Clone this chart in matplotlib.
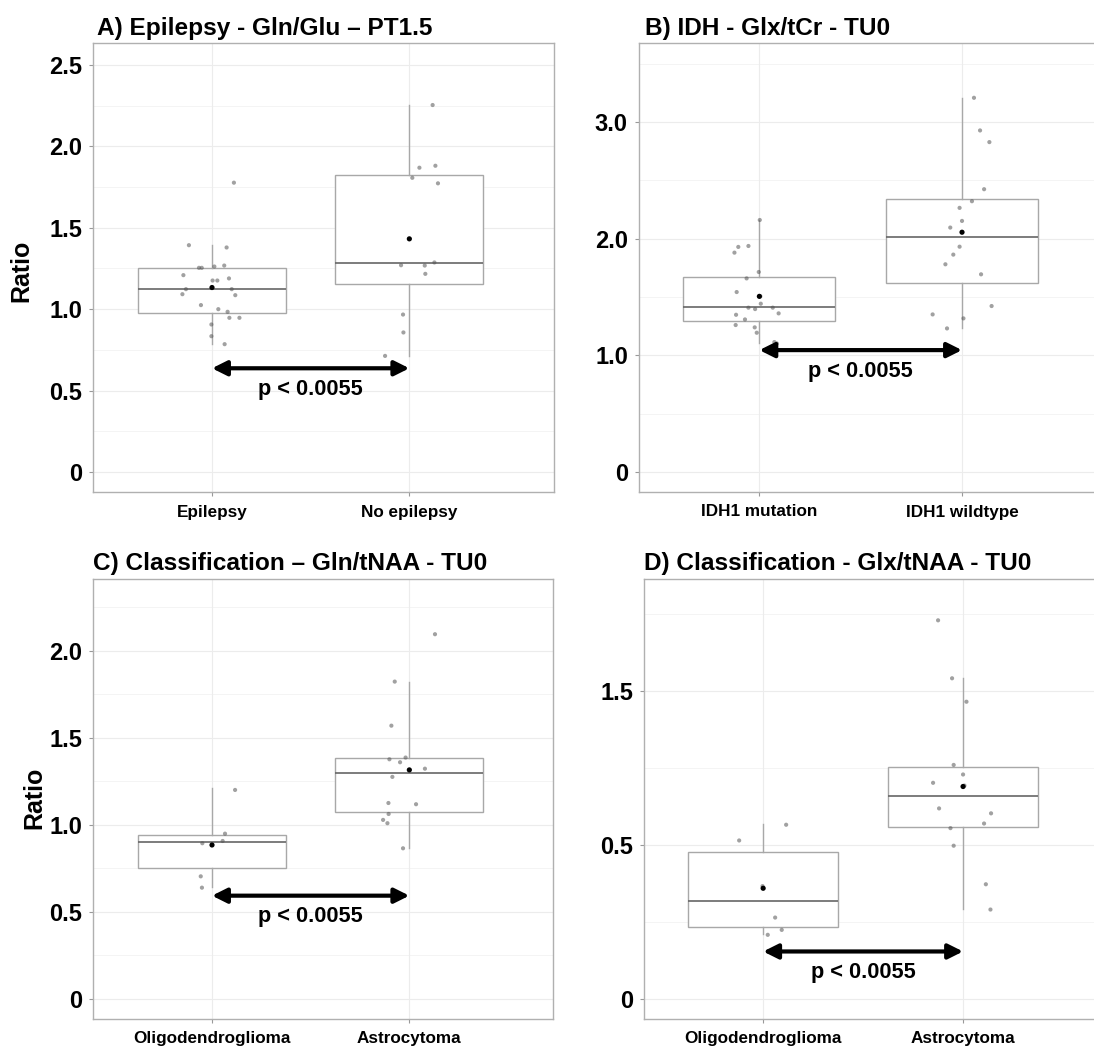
import numpy as np
import matplotlib.pyplot as plt
from matplotlib.ticker import FixedLocator

plt.rcParams['font.family'] = ['Liberation Sans', 'DejaVu Sans']
plt.rcParams['font.weight'] = 'bold'

W, H = 1094, 1051

# ---- panel A : epilepsy ----
a_groups = ["Epilepsy", "No epilepsy"]
a_vals_1 = [1.393, 1.777, 1.379, 1.254, 1.254, 1.262, 1.268, 1.209, 1.189, 1.176, 1.176, 1.123,
            1.123, 1.092, 1.086, 1.025, 1.000, 0.984, 0.947, 0.947, 0.906, 0.834, 0.785]
a_jit_1 = [-0.117, 0.111, 0.074, -0.066, -0.052, 0.012, 0.062, -0.145, 0.086, 0.003, 0.027, -0.132,
           0.100, -0.150, 0.118, -0.056, 0.032, 0.079, 0.088, 0.139, -0.003, -0.003, 0.064]
a_vals_2 = [2.254, 1.869, 1.881, 1.807, 1.773, 1.270, 1.268, 1.287, 1.217, 0.967, 0.857, 0.713]
a_jit_2 = [0.118, 0.051, 0.132, 0.015, 0.145, -0.042, 0.078, 0.127, 0.081, -0.032, -0.030, -0.123]
a_q1 = [0.975, 1.154]
a_med = [1.125, 1.281]
a_q3 = [1.250, 1.822]
a_lo = [0.789, 0.715]
a_hi = [1.393, 2.254]
a_mean = [1.133, 1.432]

# ---- panel B : IDH ----
b_groups = ["IDH1 mutation", "IDH1 wildtype"]
b_vals_1 = [2.161, 1.881, 1.930, 1.938, 1.715, 1.660, 1.543, 1.506, 1.443, 1.409, 1.397, 1.409,
            1.360, 1.348, 1.308, 1.260, 1.240, 1.194, 1.114, 1.102]
b_jit_1 = [0.002, -0.123, -0.104, -0.054, -0.003, -0.063, -0.112, 0.005, 0.007, -0.054, -0.021, 0.066,
           0.095, -0.115, -0.071, -0.117, -0.023, -0.013, 0.074, 0.086]
b_vals_2 = [3.209, 2.929, 2.829, 2.425, 2.322, 2.265, 2.153, 2.096, 1.932, 1.864, 1.781, 1.695,
            1.423, 1.351, 1.317, 1.231]
b_jit_2 = [0.059, 0.089, 0.135, 0.109, 0.049, -0.012, 0.000, -0.058, -0.012, -0.043, -0.082, 0.094,
           0.146, -0.145, 0.007, -0.074]
b_q1 = [1.297, 1.620]
b_med = [1.411, 2.018]
b_q3 = [1.675, 2.339]
b_lo = [1.102, 1.231]
b_hi = [2.161, 3.204]
b_mean = [1.506, 2.056]

# ---- panel C : classification Gln/tNAA ----
c_groups = ["Oligodendroglioma", "Astrocytoma"]
c_vals_1 = [1.200, 0.949, 0.907, 0.894, 0.704, 0.639]
c_jit_1 = [0.117, 0.066, 0.054, -0.049, -0.057, -0.051]
c_vals_2 = [2.094, 1.822, 1.569, 1.386, 1.376, 1.359, 1.322, 1.275, 1.125, 1.118, 1.062, 1.028,
            1.009, 0.865]
c_jit_2 = [0.130, -0.074, -0.091, -0.019, -0.101, -0.047, 0.079, -0.086, -0.106, 0.034, -0.105,
           -0.133, -0.111, -0.032]
c_q1 = [0.752, 1.076]
c_med = [0.900, 1.300]
c_q3 = [0.944, 1.384]
c_lo = [0.645, 0.869]
c_hi = [1.210, 1.822]
c_mean = [0.884, 1.315]

# ---- panel D : classification Glx/tNAA ----
d_groups = ["Oligodendroglioma", "Astrocytoma"]
d_vals_1 = [0.565, 0.514, 0.366, 0.264, 0.224, 0.208]
d_jit_1 = [0.115, -0.120, -0.003, 0.060, 0.093, 0.023]
d_vals_2 = [1.228, 1.040, 0.964, 0.759, 0.728, 0.701, 0.692, 0.618, 0.602, 0.569, 0.554, 0.497,
            0.372, 0.290]
d_jit_2 = [-0.125, -0.055, 0.017, -0.047, 0.000, -0.150, 0.007, -0.120, 0.140, 0.105, -0.063,
           -0.047, 0.114, 0.137]
d_q1 = [0.234, 0.558]
d_med = [0.318, 0.657]
d_q3 = [0.476, 0.751]
d_lo = [0.211, 0.291]
d_hi = [0.568, 1.041]
d_mean = [0.359, 0.689]

titles = ["A) Epilepsy - Gln/Glu \u2013 PT1.5", "B) IDH - Glx/tCr - TU0",
          "C) Classification \u2013 Gln/tNAA - TU0", "D) Classification - Glx/tNAA - TU0"]
p_text = "p < 0.0055"
arrow_y = [0.637, 1.045, 0.593, 0.154]
ptext_y = [0.506, 0.859, 0.473, 0.086]

a_major = [0, 0.5, 1.0, 1.5, 2.0, 2.5]
a_labels = ["0", "0.5", "1.0", "1.5", "2.0", "2.5"]
b_major = [0, 1, 2, 3]
b_labels = ["0", "1.0", "2.0", "3.0"]
c_major = [0, 0.5, 1.0, 1.5, 2.0]
c_labels = ["0", "0.5", "1.0", "1.5", "2.0"]
d_major = [0, 0.5, 1.0]
d_labels = ["0", "0.5", "1.5"]

panels = [
    dict(groups=a_groups, v1=a_vals_1, j1=a_jit_1, v2=a_vals_2, j2=a_jit_2,
         q1=a_q1, med=a_med, q3=a_q3, lo=a_lo, hi=a_hi, mean=a_mean,
         major=a_major, labels=a_labels, minor=[0.25, 0.75, 1.25, 1.75, 2.25],
         box=(93, 554, 43, 492), xlim=(0.397, 2.733), ylim=(-0.123, 2.635)),
    dict(groups=b_groups, v1=b_vals_1, j1=b_jit_1, v2=b_vals_2, j2=b_jit_2,
         q1=b_q1, med=b_med, q3=b_q3, lo=b_lo, hi=b_hi, mean=b_mean,
         major=b_major, labels=b_labels, minor=[0.5, 1.5, 2.5, 3.5],
         box=(639, 1114, 43, 492), xlim=(0.406, 2.75), ylim=(-0.172, 3.679)),
    dict(groups=c_groups, v1=c_vals_1, j1=c_jit_1, v2=c_vals_2, j2=c_jit_2,
         q1=c_q1, med=c_med, q3=c_q3, lo=c_lo, hi=c_hi, mean=c_mean,
         major=c_major, labels=c_labels, minor=[0.25, 0.75, 1.25, 1.75, 2.25],
         box=(93, 553, 579, 1019), xlim=(0.397, 2.728), ylim=(-0.115, 2.411)),
    dict(groups=d_groups, v1=d_vals_1, j1=d_jit_1, v2=d_vals_2, j2=d_jit_2,
         q1=d_q1, med=d_med, q3=d_q3, lo=d_lo, hi=d_hi, mean=d_mean,
         major=d_major, labels=d_labels, minor=[0.25, 0.75, 1.25],
         box=(644, 1114, 579, 1019), xlim=(0.404, 2.755), ylim=(-0.065, 1.362)),
]

fig = plt.figure(figsize=(W / 100, H / 100), dpi=100)

for i, p in enumerate(panels):
    l, r, t, b = p["box"]
    ax = fig.add_axes([l / W, 1 - b / H, (r - l) / W, (b - t) / H])
    ax.set_xlim(*p["xlim"])
    ax.set_ylim(*p["ylim"])

    # grid
    for yv in p["major"]:
        ax.axhline(yv, color="#ececec", lw=0.8, zorder=0)
    for yv in p["minor"]:
        ax.axhline(yv, color="#f3f3f3", lw=0.6, zorder=0)
    for xv in (1, 2):
        ax.axvline(xv, color="#ececec", lw=0.8, zorder=0)

    stats = []
    for k in range(2):
        stats.append(dict(q1=p["q1"][k], med=p["med"][k], q3=p["q3"][k],
                          whislo=p["lo"][k], whishi=p["hi"][k], fliers=[]))
    ax.bxp(stats, positions=[1, 2], widths=0.75, showcaps=False, patch_artist=True,
           boxprops=dict(facecolor="white", edgecolor="#a8a8a8", lw=1.0),
           medianprops=dict(color="#666666", lw=1.2),
           whiskerprops=dict(color="#a8a8a8", lw=1.0), zorder=2)

    ax.scatter(1 + np.array(p["j1"]), p["v1"], s=9, color="#555555", alpha=0.55,
               edgecolors="none", zorder=3)
    ax.scatter(2 + np.array(p["j2"]), p["v2"], s=9, color="#555555", alpha=0.55,
               edgecolors="none", zorder=3)
    ax.scatter([1, 2], p["mean"], s=14, color="black", edgecolors="none", zorder=4)

    ax.annotate("", xy=(2, arrow_y[i]), xytext=(1, arrow_y[i]),
                arrowprops=dict(arrowstyle="<|-|>", color="black", lw=3,
                                mutation_scale=22, shrinkA=0, shrinkB=0), zorder=5)
    ax.text(1.5, ptext_y[i], p_text, ha="center", va="center", fontsize=15.7,
            fontweight="bold")

    ax.set_xticks([1, 2])
    ax.set_xticklabels(p["groups"], fontsize=12.3, fontweight="bold")
    ax.yaxis.set_major_locator(FixedLocator(p["major"]))
    ax.set_yticklabels(p["labels"], fontsize=17, fontweight="bold")
    ax.tick_params(axis="both", length=3, width=0.8, color="#999999", pad=5)
    ax.tick_params(axis="x", pad=6)
    for s in ax.spines.values():
        s.set_color("#b0b0b0")
        s.set_linewidth(1.0)

title_pos = [(97, 35), (645, 35), (93, 570), (644, 570)]
for (tx, ty), tt in zip(title_pos, titles):
    fig.text(tx / W, 1 - ty / H, tt, fontsize=17.6, fontweight="bold",
             ha="left", va="baseline")

fig.text(21 / W, 1 - 271 / H, "Ratio", fontsize=18, fontweight="bold",
         rotation=90, ha="center", va="center")
fig.text(34 / W, 1 - 798 / H, "Ratio", fontsize=18, fontweight="bold",
         rotation=90, ha="center", va="center")

fig.savefig("out.png", dpi=100, facecolor="white")
